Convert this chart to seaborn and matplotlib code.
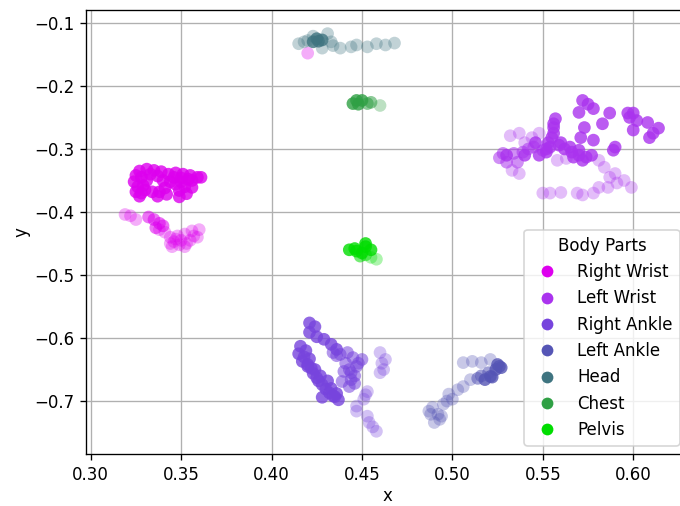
import numpy as np
import pandas as pd
import seaborn as sns
import matplotlib.pyplot as plt

# body part positions over time; frame 0 = oldest (faint), 2 = newest (solid)
parts = ["Right Wrist", "Left Wrist", "Right Ankle", "Left Ankle", "Head", "Chest", "Pelvis"]
colors = ["#dd00ee", "#aa33ee", "#7744dd", "#5555b5", "#3f7480", "#2fa044", "#00dd00"]

right_wrist_x = [0.327, 0.331, 0.335, 0.339, 0.343, 0.347, 0.351, 0.355, 0.359, 0.356,
                 0.325, 0.324, 0.326, 0.325, 0.327, 0.330, 0.331,
                 0.340, 0.344, 0.347, 0.341, 0.338, 0.342, 0.337,
                 0.350, 0.352, 0.349, 0.353, 0.354,
                 0.333, 0.337, 0.346, 0.350, 0.328, 0.329, 0.328, 0.334, 0.356, 0.361, 0.349,
                 0.332, 0.335, 0.338, 0.336, 0.340,
                 0.319, 0.322, 0.325, 0.341, 0.344, 0.346, 0.349, 0.352, 0.348, 0.352,
                 0.356, 0.360, 0.359, 0.345, 0.347, 0.350, 0.353, 0.344, 0.338, 0.355, 0.357,
                 0.420]
right_wrist_y = [-0.335, -0.332, -0.334, -0.336, -0.340, -0.338, -0.340, -0.342, -0.345, -0.350,
                 -0.342, -0.352, -0.360, -0.368, -0.375, -0.365, -0.350,
                 -0.350, -0.352, -0.356, -0.362, -0.368, -0.372, -0.375,
                 -0.352, -0.360, -0.366, -0.371, -0.348,
                 -0.340, -0.343, -0.345, -0.346, -0.345, -0.358, -0.370, -0.368, -0.361, -0.345,
                 -0.376,
                 -0.408, -0.412, -0.418, -0.425, -0.422,
                 -0.404, -0.406, -0.412, -0.432, -0.440, -0.447, -0.452, -0.455, -0.438, -0.435,
                 -0.430, -0.428, -0.440, -0.455, -0.443, -0.445, -0.450, -0.450, -0.428, -0.445,
                 -0.438, -0.148]
right_wrist_t = [2] * 40 + [1] * 5 + [0] * 22

left_wrist_x = [0.572, 0.570, 0.578, 0.587, 0.597, 0.600, 0.602, 0.608, 0.614, 0.611, 0.609, 0.600,
                0.583, 0.573, 0.571, 0.578, 0.590, 0.589, 0.598, 0.575,
                0.557, 0.556, 0.555, 0.554, 0.552, 0.556, 0.553, 0.559, 0.565, 0.570, 0.574,
                0.572, 0.567, 0.562, 0.577,
                0.530, 0.540, 0.548, 0.552, 0.556, 0.560, 0.566, 0.570, 0.546,
                0.528, 0.534, 0.539, 0.545, 0.550, 0.530, 0.536, 0.526, 0.542,
                0.532, 0.537, 0.544, 0.548, 0.533, 0.537, 0.540,
                0.558, 0.563, 0.581, 0.584, 0.590, 0.595, 0.599, 0.591, 0.586, 0.581, 0.578,
                0.572, 0.569, 0.560, 0.554, 0.550, 0.587]
left_wrist_y = [-0.223, -0.242, -0.236, -0.243, -0.243, -0.243, -0.255, -0.258, -0.267, -0.275,
                -0.282, -0.270, -0.260, -0.266, -0.282, -0.286, -0.297, -0.302, -0.250, -0.229,
                -0.252, -0.266, -0.282, -0.297, -0.305, -0.275, -0.290, -0.294, -0.297, -0.302,
                -0.313, -0.318, -0.313, -0.300, -0.310,
                -0.310, -0.310, -0.310, -0.300, -0.260, -0.290, -0.305, -0.310, -0.290,
                -0.307, -0.307, -0.305, -0.297, -0.302, -0.321, -0.321, -0.314, -0.300,
                -0.279, -0.275, -0.282, -0.275, -0.334, -0.339, -0.290,
                -0.318, -0.315, -0.318, -0.329, -0.339, -0.350, -0.361, -0.354, -0.361, -0.361,
                -0.370, -0.373, -0.370, -0.369, -0.370, -0.370, -0.345]
left_wrist_t = [2] * 44 + [1] * 9 + [0] * 7 + [0] * 17

right_ankle_x = [0.421, 0.424, 0.421, 0.425, 0.429, 0.433, 0.436,
                 0.416, 0.415, 0.417, 0.420, 0.422, 0.423, 0.425, 0.426, 0.428, 0.430, 0.432,
                 0.435, 0.437, 0.428, 0.418,
                 0.419, 0.421, 0.424, 0.427, 0.431, 0.433, 0.436, 0.434, 0.420,
                 0.434, 0.438, 0.442, 0.445, 0.450, 0.447, 0.443, 0.440, 0.444, 0.443, 0.439,
                 0.448, 0.446, 0.436, 0.441, 0.444, 0.446,
                 0.460, 0.463, 0.462, 0.460, 0.461,
                 0.453, 0.451, 0.447, 0.447, 0.453, 0.454, 0.456, 0.458, 0.452]
right_ankle_y = [-0.576, -0.582, -0.591, -0.598, -0.602, -0.610, -0.618,
                 -0.613, -0.625, -0.637, -0.642, -0.648, -0.656, -0.663, -0.668, -0.674, -0.681,
                 -0.687, -0.693, -0.698, -0.694, -0.630,
                 -0.620, -0.633, -0.650, -0.660, -0.668, -0.680, -0.688, -0.692, -0.645,
                 -0.623, -0.626, -0.623, -0.631, -0.634, -0.645, -0.650, -0.653, -0.666, -0.677,
                 -0.669, -0.640, -0.660, -0.628, -0.640, -0.655, -0.672,
                 -0.623, -0.634, -0.650, -0.655, -0.640,
                 -0.685, -0.697, -0.708, -0.716, -0.724, -0.734, -0.741, -0.748, -0.690]
right_ankle_t = [2] * 31 + [1] * 17 + [0] * 14

left_ankle_x = [0.525, 0.527, 0.524, 0.521, 0.518, 0.522, 0.526,
                0.520, 0.516, 0.514,
                0.506, 0.511, 0.516, 0.521, 0.510, 0.506, 0.498, 0.500, 0.495, 0.489,
                0.487, 0.492, 0.494, 0.490, 0.493, 0.488, 0.503, 0.497]
left_ankle_y = [-0.642, -0.647, -0.650, -0.661, -0.666, -0.662, -0.645,
                -0.655, -0.660, -0.664,
                -0.639, -0.637, -0.639, -0.634, -0.666, -0.677, -0.689, -0.697, -0.705, -0.710,
                -0.716, -0.721, -0.724, -0.734, -0.729, -0.721, -0.682, -0.700]
left_ankle_t = [2] * 7 + [1] * 3 + [0] * 18

head_x = [0.425, 0.428, 0.423, 0.426,
          0.415, 0.418, 0.420, 0.428, 0.434, 0.438, 0.444, 0.447, 0.453, 0.458,
          0.463, 0.468, 0.431, 0.423, 0.433]
head_y = [-0.125, -0.127, -0.130, -0.129,
          -0.133, -0.130, -0.128, -0.140, -0.136, -0.140, -0.138, -0.135, -0.138, -0.133,
          -0.135, -0.132, -0.117, -0.121, -0.130]
head_t = [2] * 4 + [0] * 15

chest_x = [0.447, 0.450, 0.445, 0.448, 0.453, 0.455, 0.460]
chest_y = [-0.223, -0.223, -0.228, -0.229, -0.228, -0.226, -0.231]
chest_t = [2, 2, 2, 2, 1, 1, 0]

pelvis_x = [0.443, 0.447, 0.452, 0.455, 0.450, 0.452, 0.446, 0.449, 0.452, 0.455, 0.458]
pelvis_y = [-0.460, -0.462, -0.455, -0.460, -0.465, -0.450, -0.458, -0.470, -0.468, -0.472, -0.475]
pelvis_t = [2, 2, 2, 2, 2, 2, 2, 1, 1, 0, 0]

frame_alpha = {0: 0.32, 1: 0.55, 2: 0.8}

series = [
    ("Right Wrist", right_wrist_x, right_wrist_y, right_wrist_t),
    ("Left Wrist", left_wrist_x, left_wrist_y, left_wrist_t),
    ("Right Ankle", right_ankle_x, right_ankle_y, right_ankle_t),
    ("Left Ankle", left_ankle_x, left_ankle_y, left_ankle_t),
    ("Head", head_x, head_y, head_t),
    ("Chest", chest_x, chest_y, chest_t),
    ("Pelvis", pelvis_x, pelvis_y, pelvis_t),
]
df = pd.concat([pd.DataFrame({"x": xs, "y": ys, "frame": ts, "part": name})
                for name, xs, ys, ts in series], ignore_index=True)

palette = dict(zip(parts, colors))

fig = plt.figure(figsize=(680 / 120, 506 / 120), dpi=120)
ax = fig.add_axes([86 / 680, 52 / 506, 602 / 680, 444 / 506])

for fr in [0, 1, 2]:
    sub = df[df["frame"] == fr]
    sns.scatterplot(data=sub, x="x", y="y", hue="part", hue_order=parts, palette=palette,
                    s=58, alpha=frame_alpha[fr], edgecolor="none", legend=False, ax=ax)

handles = [plt.Line2D([], [], marker="o", linestyle="", markersize=7.07,
                      markerfacecolor=c, markeredgecolor="none") for c in colors]
ax.legend(handles, parts, title="Body Parts", loc="lower right")

ax.set_xlim(0.2974, 0.6303)
ax.set_ylim(-0.784, -0.0795)
ax.set_xticks([0.30, 0.35, 0.40, 0.45, 0.50, 0.55, 0.60])
ax.set_yticks([-0.1, -0.2, -0.3, -0.4, -0.5, -0.6, -0.7])
ax.grid(True)
ax.set_axisbelow(True)
ax.set_xlabel("x", labelpad=2)
ax.set_ylabel("y", labelpad=2)

plt.savefig("out.png", dpi=120)
